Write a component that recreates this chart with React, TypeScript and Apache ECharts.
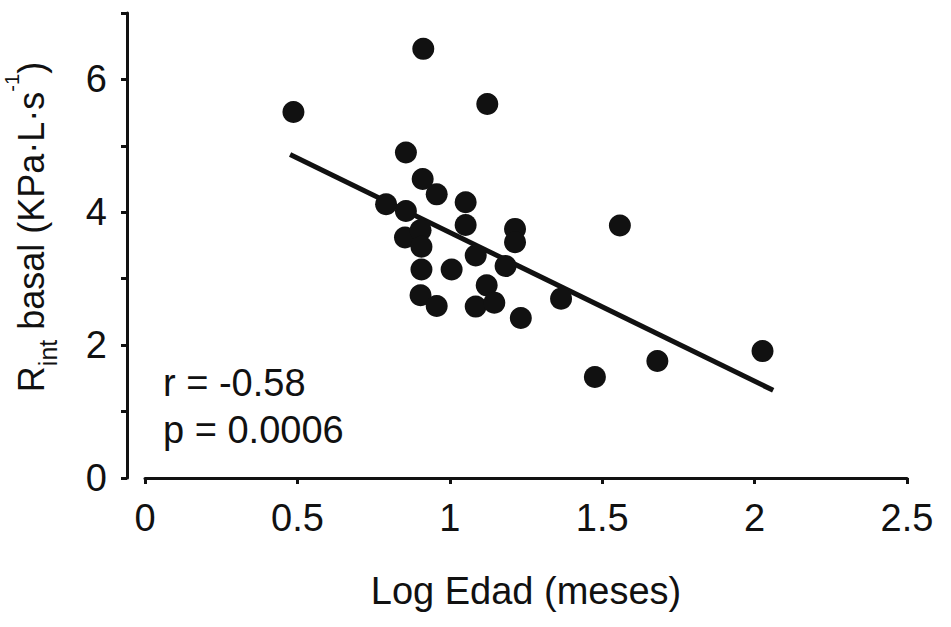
import React, { useEffect, useRef } from "react";
import * as echarts from "echarts";

const FONT = "'Liberation Sans', Arial, Helvetica, sans-serif";
const INK = "#111111";

// Log Edad (meses) values of each subject
const logEdad = [
  0.487, 0.913, 1.123, 0.856, 0.911, 0.957, 1.052, 0.791, 0.856, 1.052,
  1.214, 1.214, 0.853, 0.904, 0.907, 0.907, 1.006, 1.085, 1.183, 1.121,
  0.904, 0.957, 1.085, 1.146, 1.233, 1.365, 1.558, 1.681, 1.476, 2.026,
];
// Rint basal (KPa·L·s-1) values of each subject
const rintBasal = [
  5.51, 6.46, 5.63, 4.9, 4.5, 4.27, 4.15, 4.12, 4.02, 3.81,
  3.75, 3.55, 3.62, 3.73, 3.48, 3.14, 3.14, 3.35, 3.19, 2.9,
  2.75, 2.59, 2.58, 2.64, 2.41, 2.7, 3.8, 1.76, 1.52, 1.91,
];
// regression line end points
const fitX = [0.476, 2.061];
const fitY = [4.87, 1.32];

const xTicks = [0, 0.5, 1, 1.5, 2, 2.5];
const yLabelled = [0, 2, 4, 6];

export default function App() {
  const ref = useRef<HTMLDivElement>(null);
  useEffect(() => {
    if (!ref.current) return;
    const chart = echarts.init(ref.current, undefined, { renderer: "svg" });
    chart.setOption({
      animation: false,
      backgroundColor: "#ffffff",
      grid: { left: 145, right: 44, top: 13, bottom: 149, containLabel: false },
      xAxis: {
        type: "value",
        min: 0,
        max: 2.5,
        interval: 0.5,
        name: "Log Edad (meses)",
        nameLocation: "middle",
        nameGap: 94,
        nameTextStyle: { fontSize: 38, color: INK, fontFamily: FONT },
        axisLine: { show: true, onZero: false, lineStyle: { color: INK, width: 3 } },
        axisTick: { show: true, length: 6, lineStyle: { color: INK, width: 3 } },
        axisLabel: {
          fontSize: 38,
          color: INK,
          fontFamily: FONT,
          margin: 21,
          formatter: (v: number) => (xTicks.includes(v) ? String(v) : ""),
        },
        splitLine: { show: false },
      },
      yAxis: {
        type: "value",
        min: 0,
        max: 7,
        interval: 1,
        offset: 18,
        axisLine: { show: true, onZero: false, lineStyle: { color: INK, width: 3 } },
        axisTick: { show: true, length: 6, lineStyle: { color: INK, width: 3 } },
        axisLabel: {
          fontSize: 38,
          color: INK,
          fontFamily: FONT,
          margin: 20,
          formatter: (v: number) => (yLabelled.includes(v) ? String(v) : ""),
        },
        splitLine: { show: false },
      },
      graphic: [
        {
          type: "text",
          x: 31,
          y: 227,
          rotation: Math.PI / 2,
          style: {
            text: "{m|R}{sub|int}{m| basal (KPa·L·s}{sup|-1}{m|)}",
            align: "center",
            verticalAlign: "middle",
            fill: INK,
            fontFamily: FONT,
            fontSize: 36,
            rich: {
              m: { fontSize: 36, lineHeight: 58, verticalAlign: "middle", fill: INK, fontFamily: FONT },
              sub: { fontSize: 25, lineHeight: 25, verticalAlign: "bottom", fill: INK, fontFamily: FONT },
              sup: { fontSize: 20, lineHeight: 20, verticalAlign: "top", fill: INK, fontFamily: FONT },
            },
          },
        },
        {
          type: "text",
          x: 163,
          y: 383,
          style: { text: "r = -0.58", fontSize: 38, fontFamily: FONT, fill: INK, verticalAlign: "middle" },
        },
        {
          type: "text",
          x: 163,
          y: 430,
          style: { text: "p = 0.0006", fontSize: 38, fontFamily: FONT, fill: INK, verticalAlign: "middle" },
        },
      ],
      series: [
        {
          type: "line",
          data: fitX.map((x, i) => [x, fitY[i]]),
          symbol: "none",
          lineStyle: { color: INK, width: 5 },
          z: 2,
        },
        {
          type: "scatter",
          data: logEdad.map((x, i) => [x, rintBasal[i]]),
          symbol: "circle",
          symbolSize: 22,
          itemStyle: { color: INK, opacity: 1 },
          z: 3,
        },
      ],
    });
    return () => chart.dispose();
  }, []);
  return (
    <div
      ref={ref}
      style={{ width: 951, height: 627, position: "absolute", left: 0, top: 0, background: "#fff" }}
    />
  );
}
